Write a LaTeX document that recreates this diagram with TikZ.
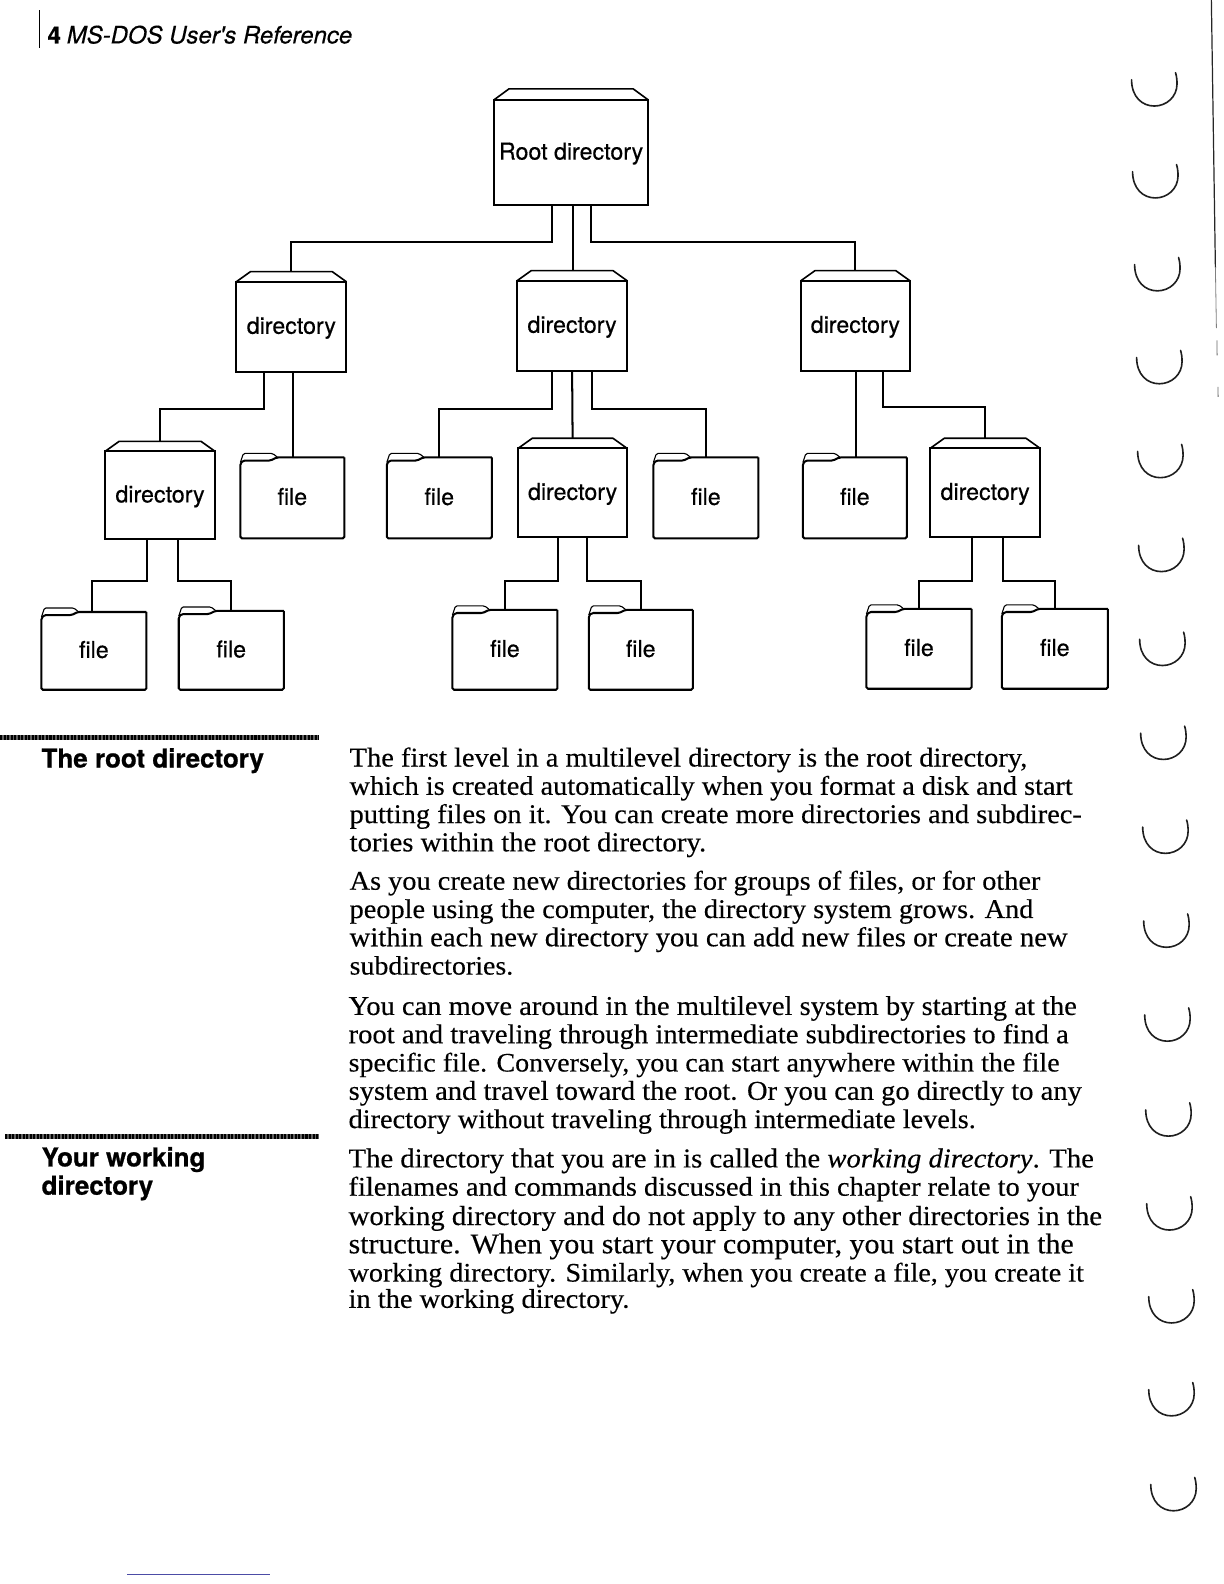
\documentclass[tikz,border=0pt]{standalone}
\usepackage{fontspec}
\setmainfont[FakeBold=0.3,FakeStretch=1.05]{Liberation Serif}
\newfontfamily\hv[FakeBold=0.4]{TeX Gyre Heros}
\newfontfamily\hvb[BoldFont={TeX Gyre Heros Bold},FakeBold=0.8]{TeX Gyre Heros Bold}
\usetikzlibrary{calc}
\tikzset{
  lnk/.style={line width=2pt,line join=miter},
  dirbox/.style={draw,line width=2pt,rectangle,inner sep=0pt,outer sep=0pt,font=\hv\fontsize{23}{27}\selectfont,text height=18pt,text depth=4pt},
  filebox/.style={rectangle,inner sep=0pt,outer sep=0pt,font=\hv\fontsize{23}{27}\selectfont,text height=18pt,text depth=4pt},
  bodyline/.style={anchor=base west,inner sep=0pt,font=\fontsize{25}{28}\selectfont},
  headline/.style={anchor=base west,inner sep=0pt,font=\hvb\fontsize{25.7}{28}\selectfont},
  siderule/.style={line width=5pt,black!62},
  siderulex/.style={line width=5pt,black,dash pattern=on 2pt off 1.5pt},
  holearc/.style={line width=1.6pt,black!88,line cap=round},
}
% name, x0, y0, x1, y1, tab height, inset, label
\newcommand{\dirnode}[8]{%
  \node[dirbox,minimum width=#4pt-#2pt,minimum height=#5pt-#3pt] (#1) at ({(#2+#4)/2},{(#3+#5)/2}) {#8};
  \draw[lnk,line width=1.6pt,line join=round] (#1.north west) -- ++(#7,-#6) -- ($(#1.north east)+(-#7,-#6)$) -- (#1.north east);
  \coordinate (#1t) at ($(#1.north)+(0,-#6)$);
}
% name, x0, y0, x1, y1
\newcommand{\filenode}[5]{%
  \node[filebox,minimum width=#4pt-#2pt,minimum height=#5pt-#3pt] (#1) at ({(#2+#4)/2},{(#3+#5)/2}) {file};
  \draw[lnk,rounded corners=1.5pt] (#1.north east) -- (#1.south east) -- (#1.south west) -- ($(#1.north west)+(0,6)$) -- ($(#1.north west)+(3,3)$) -- ($(#1.north west)+(30,3)$) -- ($(#1.north west)+(36,0)$) -- (#1.north east);
  \draw[line width=1.1pt,rounded corners=1.5pt] ($(#1.north west)+(0,5)$) -- ($(#1.north west)+(3,-4)$) -- ($(#1.north west)+(32,-4)$) -- ($(#1.north west)+(37,0)$);
}
% name, x, baseline y, right x, text
\newcommand{\bodyl}[5]{\node[bodyline] (#1) at (#2,#3) {\resizebox{\dimexpr#4pt-#2pt\relax}{!}{#5}};}
% centre x, bottom y
\newcommand{\holemark}[2]{\draw[holearc] ({#1-22.5},{#2-26}) .. controls ({#1-22.5},{#2-9}) and ({#1-12},{#2}) .. ({#1},{#2}) .. controls ({#1+12},{#2}) and ({#1+22.5},{#2-9}) .. ({#1+22.5},{#2-22}) .. controls ({#1+22.5},{#2-26}) and ({#1+22},{#2-30}) .. ({#1+21},{#2-33});}
\begin{document}
\begin{tikzpicture}[x=1pt,y=-1pt]
\useasboundingbox (0,0) rectangle (1212,1568.5);
% header
\coordinate (hb0) at (39,10); \coordinate (hb1) at (39,48);
\draw[line width=1.6pt] (hb0) -- (hb1);
\node[anchor=base west,inner sep=0pt,font=\hvb\fontsize{23.5}{28}\selectfont] (pg) at (47,43) {4};
\node[anchor=base west,inner sep=0pt,font=\hv\itshape\fontsize{23.7}{28}\selectfont] (ht) at (66,43) {MS-DOS User's Reference};
% tree
\dirnode{root}{489}{99}{642}{203}{11}{15}{Root directory}
\dirnode{da}{234}{279}{343}{368}{10}{14}{directory}
\dirnode{db}{512}{278}{621}{367}{10}{14}{directory}
\dirnode{dc}{793}{278}{901}{367}{10}{14}{directory}
\dirnode{dd}{104}{447}{213}{534}{10}{14}{directory}
\dirnode{de}{513}{444}{621}{532}{10}{14}{directory}
\dirnode{df}{921}{444}{1030}{532}{10}{14}{directory}
\filenode{fa}{238}{453}{341}{533}
\filenode{fb}{383}{453}{487}{533}
\filenode{fc}{647}{453}{751}{533}
\filenode{fd}{795}{453}{898}{533}
\filenode{fe}{41}{606}{145}{683}
\filenode{ff}{177}{605}{281}{683}
\filenode{fg}{448}{604}{552}{683}
\filenode{fh}{583}{604}{686}{683}
\filenode{fi}{858}{603}{962}{682}
\filenode{fj}{992}{603}{1097}{682}
% connectors
\draw[lnk] ([xshift=-19pt]root.south) -- ++(0,37) -| (dat);
\draw[lnk] ([xshift=1.5pt]root.south) -- ([xshift=1.5pt]root.south |- dbt);
\draw[lnk] ([xshift=20pt]root.south) -- ++(0,37) -| (dct);
\draw[lnk] ([xshift=-27pt]da.south) -- ++(0,37) -| (ddt);
\draw[lnk] ([xshift=1.5pt]da.south) -- ([xshift=1.5pt]da.south |- fa.north);
\draw[lnk] ([xshift=-19.5pt]db.south) -- ++(0,38) -| (fb.north);
\draw[lnk] (db.south) -- (det);
\draw[lnk] ([xshift=19.5pt]db.south) -- ++(0,38) -| (fc.north);
\draw[lnk] ([xshift=1pt]dc.south) -- ([xshift=1pt]dc.south |- fd.north);
\draw[lnk] ([xshift=27pt]dc.south) -- ++(0,36) -| (dft);
\draw[lnk] ([xshift=-12.5pt]dd.south) -- ++(0,41) -| ([xshift=-2pt]fe.north);
\draw[lnk] ([xshift=17.5pt]dd.south) -- ++(0,41) -| (ff.north);
\draw[lnk] ([xshift=-14pt]de.south) -- ++(0,43) -| (fg.north);
\draw[lnk] ([xshift=14pt]de.south) -- ++(0,43) -| (fh.north);
\draw[lnk] ([xshift=-13.5pt]df.south) -- ++(0,43) -| (fi.north);
\draw[lnk] ([xshift=17.5pt]df.south) -- ++(0,43) -| (fj.north);
% side headings
\draw[siderule] (0,730) -- (316,730);
\draw[siderulex] (0,730) -- (316,730);
\node[headline] (h1) at (41,760) {The root directory};
\draw[siderule] (5,1125) -- (316,1125);
\draw[siderulex] (5,1125) -- (316,1125);
\node[headline] (h2) at (41,1155) {Your working};
\node[headline] (h3) at (41,1183) {directory};
% body
\bodyl{l1}{346}{759}{1017}{The first level in a multilevel directory is the root directory,}
\bodyl{l2}{346}{787}{1062}{which is created automatically when you format a disk and start}
\bodyl{l3}{346}{815}{1071}{putting files on it. You can create more directories and subdirec-}
\bodyl{l4}{346}{843}{699}{tories within the root directory.}
\bodyl{l5}{346}{881}{1030}{As you create new directories for groups of files, or for other}
\bodyl{l6}{346}{909}{1023}{people using the computer, the directory system grows. And}
\bodyl{l7}{346}{937}{1057}{within each new directory you can add new files or create new}
\bodyl{l8}{346}{965}{508}{subdirectories.}
\bodyl{l9}{345}{1005}{1066}{You can move around in the multilevel system by starting at the}
\bodyl{l10}{345}{1033}{1058}{root and traveling through intermediate subdirectories to find a}
\bodyl{l11}{345}{1061}{1049}{specific file. Conversely, you can start anywhere within the file}
\bodyl{l12}{345}{1089}{1071}{system and travel toward the root. Or you can go directly to any}
\bodyl{l13}{345}{1117}{966}{directory without traveling through intermediate levels.}
\bodyl{l14}{345}{1156}{1083}{The directory that you are in is called the \textit{working directory}. The}
\bodyl{l15}{345}{1184}{1068}{filenames and commands discussed in this chapter relate to your}
\bodyl{l16}{345}{1213}{1091}{working directory and do not apply to any other directories in the}
\bodyl{l17}{345}{1241}{1063}{structure. When you start your computer, you start out in the}
\bodyl{l18}{345}{1269}{1073}{working directory. Similarly, when you create a file, you create it}
\bodyl{l19}{345}{1295}{623}{in the working directory.}
% binding holes
\holemark{1143}{105}
\holemark{1144}{196}
\holemark{1146}{288}
\holemark{1148}{380}
\holemark{1149}{473}
\holemark{1150}{566}
\holemark{1151}{659}
\holemark{1152}{752}
\holemark{1154}{845}
\holemark{1155}{938}
\holemark{1156}{1031}
\holemark{1157}{1125}
\holemark{1158}{1218}
\holemark{1160}{1310}
\holemark{1160}{1402}
\holemark{1162}{1496}
% page edge and foot line
\draw[line width=1.2pt,black!85] (1199.5,0) -- (1203.5,265);
\draw[line width=.8pt,black!50] (1203.5,265) -- (1204.5,325);
\draw[line width=.8pt,black!60] (1205,337) -- (1205.2,352);
\draw[line width=.8pt,black!60] (1206,383) -- (1206.2,393);
\draw[line width=1pt,blue!50!black!70] (126,1559) -- (267,1559);
\end{tikzpicture}
\end{document}
